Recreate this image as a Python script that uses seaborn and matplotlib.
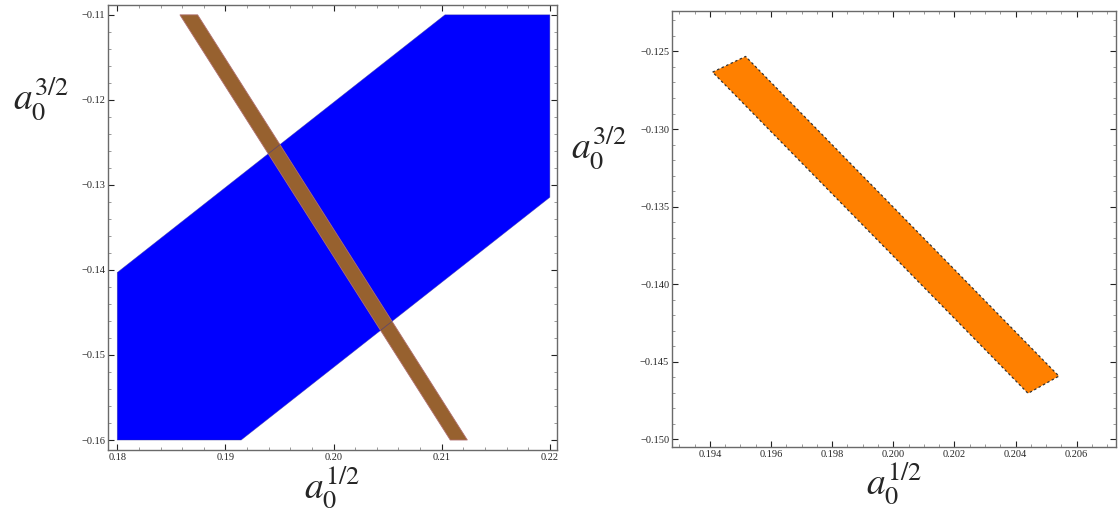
import numpy as np
import pandas as pd
import matplotlib
matplotlib.use("Agg")
import matplotlib.pyplot as plt
from matplotlib.ticker import MultipleLocator, FuncFormatter
import seaborn as sns

sns.set_style("ticks")
plt.rcParams['font.family'] = ['Liberation Serif', 'DejaVu Serif']
plt.rcParams['mathtext.fontset'] = 'stix'

# left panel: blue allowed band, brown constraint band
blue_x = [0.18, 0.18, 0.19145, 0.22, 0.22, 0.2103]
blue_y = [-0.1403, -0.16, -0.16, -0.13145, -0.11, -0.11]
brown_x = [0.18579, 0.18743, 0.21237, 0.21079]
brown_y = [-0.11, -0.11, -0.16, -0.16]

# right panel: overlap region
orange_x = [0.19409, 0.19517, 0.20542, 0.20441]
orange_y = [-0.12633, -0.12532, -0.14593, -0.14704]

xlabel = r'$a_0^{1/2}$'
ylabel = r'$a_0^{3/2}$'

fig = plt.figure(figsize=(11.18, 5.16), dpi=100)
ax1 = fig.add_axes([0.0966, 0.128, 0.4016, 0.862])
ax2 = fig.add_axes([0.601, 0.134, 0.397, 0.845])


def fmt(nd):
    return FuncFormatter(lambda v, p: f"{v:.{nd}f}".replace("-", "\u2212"))


def style_axes(ax, xmaj, xmin, ymaj, ymin, nd):
    for s in ax.spines.values():
        s.set_color('#6a6a6a')
        s.set_linewidth(1.0)
    ax.xaxis.set_major_locator(MultipleLocator(xmaj))
    ax.xaxis.set_minor_locator(MultipleLocator(xmin))
    ax.yaxis.set_major_locator(MultipleLocator(ymaj))
    ax.yaxis.set_minor_locator(MultipleLocator(ymin))
    ax.xaxis.set_major_formatter(fmt(nd))
    ax.yaxis.set_major_formatter(fmt(nd))
    ax.tick_params(which='both', direction='in', top=True, right=True,
                   labeltop=False, labelright=False)
    ax.tick_params(which='major', length=4, width=0.8, color='#222222',
                   labelsize=7.5, pad=2)
    ax.tick_params(which='minor', length=2, width=0.6, color='#888888')


# left
poly = pd.DataFrame({"x": blue_x, "y": blue_y})
ax1.fill(poly["x"], poly["y"], color='#0000ff', lw=0)
ax1.fill(brown_x, brown_y, color='#97612f', ec='#b07070', lw=0.6)
sns.lineplot(x=blue_x + blue_x[:1], y=blue_y + blue_y[:1], sort=False,
             color='#3030a0', lw=0.5, alpha=0.6, ax=ax1, estimator=None)
ax1.set_xlim(0.17914, 0.22066)
ax1.set_ylim(-0.16117, -0.10886)
style_axes(ax1, 0.01, 0.002, 0.01, 0.002, 2)

# right
ax2.fill(orange_x, orange_y, color='#ff8000', lw=0)
sns.lineplot(x=orange_x + orange_x[:1], y=orange_y + orange_y[:1], sort=False,
             color='#333333', lw=0.9, ls=(0, (2, 2)), ax=ax2, estimator=None)
ax2.set_xlim(0.19276, 0.20728)
ax2.set_ylim(-0.15049, -0.12238)
style_axes(ax2, 0.002, 0.0005, 0.005, 0.001, 3)

for ax in (ax1, ax2):
    ax.set_xlabel(xlabel, fontsize=27, labelpad=2)
    ax.set_ylabel(ylabel, fontsize=27, rotation=0, ha='center', va='center')

ax1.yaxis.set_label_coords(-0.15, 0.79)
ax2.yaxis.set_label_coords(-0.165, 0.685)

fig.savefig("out.png", dpi=100)
